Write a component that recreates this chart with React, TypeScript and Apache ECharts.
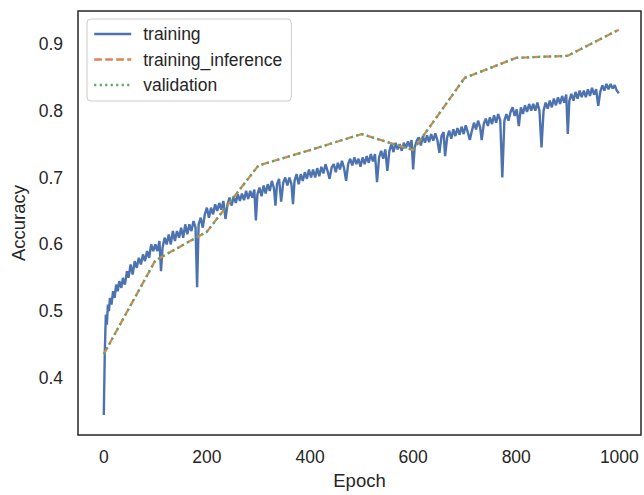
import React, { useEffect, useRef } from "react";
import * as echarts from "echarts";

const trainEpochs = [
  0, 2, 4, 6, 8, 10, 12, 15, 18, 21, 24, 27, 30, 34, 37, 41, 45, 48, 52, 56, 60, 64, 68, 72, 76, 80, 84, 88, 92, 96,
  100, 104, 108, 111, 114, 118, 122, 126, 130, 134, 138, 142, 146, 150, 154, 158, 162, 166, 170, 174, 178, 181, 184, 188, 192, 196,
  200, 204, 208, 212, 216, 220, 224, 228, 232, 236, 240, 244, 248, 252, 256, 260, 264, 268, 272, 276, 280, 284, 288, 292, 295, 298,
  302, 306, 310, 314, 318, 322, 326, 330, 333, 336, 340, 344, 348, 352, 356, 360, 364, 367, 370, 374, 378, 382, 386, 390, 394, 398,
  402, 406, 410, 414, 418, 422, 426, 430, 434, 438, 442, 446, 450, 454, 458, 462, 466, 470, 474, 478, 482, 486, 490, 494, 498,
  502, 506, 510, 514, 518, 522, 526, 530, 534, 538, 542, 546, 550, 554, 558, 562, 566, 570, 574, 578, 582, 586, 590, 594, 597,
  600, 603, 607, 611, 615, 619, 623, 627, 631, 635, 639, 643, 647, 651, 655, 659, 662, 666, 670, 674, 678, 682, 686, 690, 694, 698,
  702, 706, 710, 714, 718, 722, 726, 730, 733, 737, 741, 745, 749, 753, 757, 761, 765, 769, 773, 777, 781, 785, 789, 793, 797,
  801, 805, 809, 813, 817, 821, 825, 829, 833, 837, 841, 845, 849, 853, 857, 861, 865, 869, 873, 877, 881, 885, 889, 893, 897,
  900, 903, 907, 911, 915, 919, 923, 927, 931, 935, 939, 943, 947, 951, 955, 959, 963, 967, 971, 975, 979, 983, 987, 991, 995, 999,
];

const trainAcc = [
  0.345, 0.44, 0.495, 0.48, 0.51, 0.5, 0.52, 0.51, 0.53, 0.52, 0.54, 0.53, 0.545, 0.535, 0.55, 0.54, 0.56, 0.55, 0.57, 0.555, 0.575, 0.565, 0.58, 0.57, 0.585, 0.575, 0.59, 0.58, 0.6, 0.59,
  0.6, 0.59, 0.605, 0.56, 0.595, 0.61, 0.6, 0.615, 0.6, 0.62, 0.605, 0.62, 0.61, 0.625, 0.61, 0.63, 0.615, 0.63, 0.62, 0.635, 0.625, 0.536, 0.63, 0.64, 0.625, 0.645,
  0.655, 0.64, 0.655, 0.645, 0.66, 0.65, 0.662, 0.652, 0.665, 0.638, 0.66, 0.67, 0.658, 0.672, 0.662, 0.675, 0.665, 0.676, 0.666, 0.68, 0.668, 0.68, 0.67, 0.682, 0.636, 0.675,
  0.685, 0.672, 0.688, 0.676, 0.69, 0.68, 0.695, 0.684, 0.658, 0.69, 0.698, 0.664, 0.692, 0.7, 0.688, 0.7, 0.69, 0.66, 0.695, 0.705, 0.69, 0.705, 0.695, 0.708, 0.698, 0.712,
  0.7, 0.712, 0.7, 0.714, 0.702, 0.716, 0.706, 0.72, 0.71, 0.698, 0.715, 0.72, 0.708, 0.722, 0.712, 0.725, 0.714, 0.695, 0.72, 0.728, 0.718, 0.73, 0.72, 0.728, 0.716,
  0.73, 0.72, 0.732, 0.722, 0.735, 0.724, 0.735, 0.693, 0.73, 0.74, 0.728, 0.742, 0.71, 0.74, 0.75, 0.738, 0.752, 0.742, 0.75, 0.74, 0.752, 0.744, 0.754, 0.745, 0.756,
  0.712, 0.745, 0.755, 0.76, 0.748, 0.762, 0.752, 0.763, 0.753, 0.765, 0.755, 0.766, 0.756, 0.737, 0.762, 0.768, 0.732, 0.76, 0.77, 0.758, 0.772, 0.762, 0.774, 0.764, 0.776, 0.765,
  0.778, 0.768, 0.756, 0.77, 0.782, 0.772, 0.785, 0.775, 0.756, 0.78, 0.788, 0.777, 0.79, 0.78, 0.793, 0.782, 0.795, 0.785, 0.7, 0.785, 0.795, 0.785, 0.798, 0.805, 0.792,
  0.802, 0.777, 0.805, 0.795, 0.808, 0.798, 0.81, 0.8, 0.81, 0.8, 0.812, 0.8, 0.745, 0.8, 0.812, 0.803, 0.815, 0.805, 0.818, 0.808, 0.82, 0.81, 0.822, 0.812, 0.824,
  0.765, 0.815, 0.825, 0.815, 0.828, 0.818, 0.83, 0.82, 0.83, 0.82, 0.832, 0.822, 0.834, 0.824, 0.832, 0.807, 0.828, 0.838, 0.83, 0.84, 0.832, 0.84, 0.833, 0.838, 0.83, 0.826,
];

const evalEpochs = [0, 100, 200, 300, 400, 500, 600, 700, 800, 900, 999];
const trainingInferenceAcc = [0.436, 0.576, 0.619, 0.718, 0.741, 0.765, 0.741, 0.849, 0.879, 0.882, 0.921];
const validationAcc = [0.436, 0.576, 0.619, 0.718, 0.741, 0.765, 0.741, 0.849, 0.879, 0.882, 0.921];

const seriesNames = ["training", "training_inference", "validation"];
const xTickLabels = [0, 200, 400, 600, 800, 1000];
const yTickLabels = [0.4, 0.5, 0.6, 0.7, 0.8, 0.9];

const FONT = "'Liberation Sans', Arial, Helvetica, sans-serif";
const TEXT = "#262626";

export default function App() {
  const ref = useRef<HTMLDivElement>(null);
  useEffect(() => {
    if (!ref.current) return;
    const chart = echarts.init(ref.current, undefined, { renderer: "svg" });
    const pair = (xs: number[], ys: number[]) => xs.map((x, i) => [x, ys[i]]);
    chart.setOption({
      animation: false,
      backgroundColor: "#ffffff",
      textStyle: { fontFamily: FONT },
      grid: {
        left: 78,
        top: 11,
        right: -2,
        bottom: 58,
        show: true,
        borderColor: TEXT,
        borderWidth: 1.5,
        backgroundColor: "#ffffff",
      },
      legend: {
        orient: "vertical",
        left: 87,
        top: 19,
        padding: [5, 9, 6, 6],
        backgroundColor: "rgba(255,255,255,0.85)",
        borderColor: "#cccccc",
        borderWidth: 1,
        borderRadius: 4,
        itemWidth: 37,
        itemHeight: 14,
        itemGap: 5.5,
        itemStyle: { opacity: 0 },
        lineStyle: { width: 2.4 },
        textStyle: { fontFamily: FONT, fontSize: 17.5, color: TEXT, lineHeight: 20, padding: [0, 0, 0, 7] },
        data: seriesNames,
      },
      xAxis: {
        type: "value",
        min: -50,
        max: 1042,
        interval: 50,
        name: "Epoch",
        nameLocation: "middle",
        nameGap: 36,
        nameTextStyle: { fontFamily: FONT, fontSize: 18.5, color: TEXT },
        axisLine: { show: false },
        axisTick: { show: false },
        splitLine: { show: false },
        axisLabel: {
          interval: 0,
          hideOverlap: false,
          showMinLabel: true,
          showMaxLabel: true,
          fontFamily: FONT,
          fontSize: 17.5,
          color: TEXT,
          margin: 13,
          formatter: (v: number) => {
            const hit = xTickLabels.find((t) => Math.abs(t - v) < 1e-6);
            return hit === undefined ? "" : String(hit);
          },
        },
      },
      yAxis: {
        type: "value",
        min: 0.315,
        max: 0.949,
        interval: 0.005,
        name: "Accuracy",
        nameLocation: "middle",
        nameGap: 48,
        nameRotate: 90,
        nameTextStyle: { fontFamily: FONT, fontSize: 18.5, color: TEXT },
        axisLine: { show: false },
        axisTick: { show: false },
        splitLine: { show: false },
        axisLabel: {
          interval: 0,
          hideOverlap: false,
          fontFamily: FONT,
          fontSize: 17.5,
          color: TEXT,
          margin: 15,
          formatter: (v: number) => {
            const hit = yTickLabels.find((t) => Math.abs(t - v) < 1e-6);
            return hit === undefined ? "" : hit.toFixed(1);
          },
        },
      },
      series: [
        {
          name: seriesNames[0],
          type: "line",
          data: pair(trainEpochs, trainAcc),
          symbol: "none",
          lineStyle: { color: "#4C72B0", width: 2.4 },
          itemStyle: { color: "#4C72B0" },
          z: 2,
        },
        {
          name: seriesNames[1],
          type: "line",
          data: pair(evalEpochs, trainingInferenceAcc),
          symbol: "none",
          lineStyle: { color: "#DD8452", width: 2.3, type: [7.7, 3.3] },
          itemStyle: { color: "#DD8452" },
          z: 3,
        },
        {
          name: seriesNames[2],
          type: "line",
          data: pair(evalEpochs, validationAcc),
          symbol: "none",
          lineStyle: { color: "#55A868", width: 2.3, type: [2.1, 3.4] },
          itemStyle: { color: "#55A868" },
          z: 4,
        },
      ],
    });
    return () => chart.dispose();
  }, []);
  return <div ref={ref} style={{ width: 644, height: 495, position: "fixed", left: 0, top: 0 }} />;
}
